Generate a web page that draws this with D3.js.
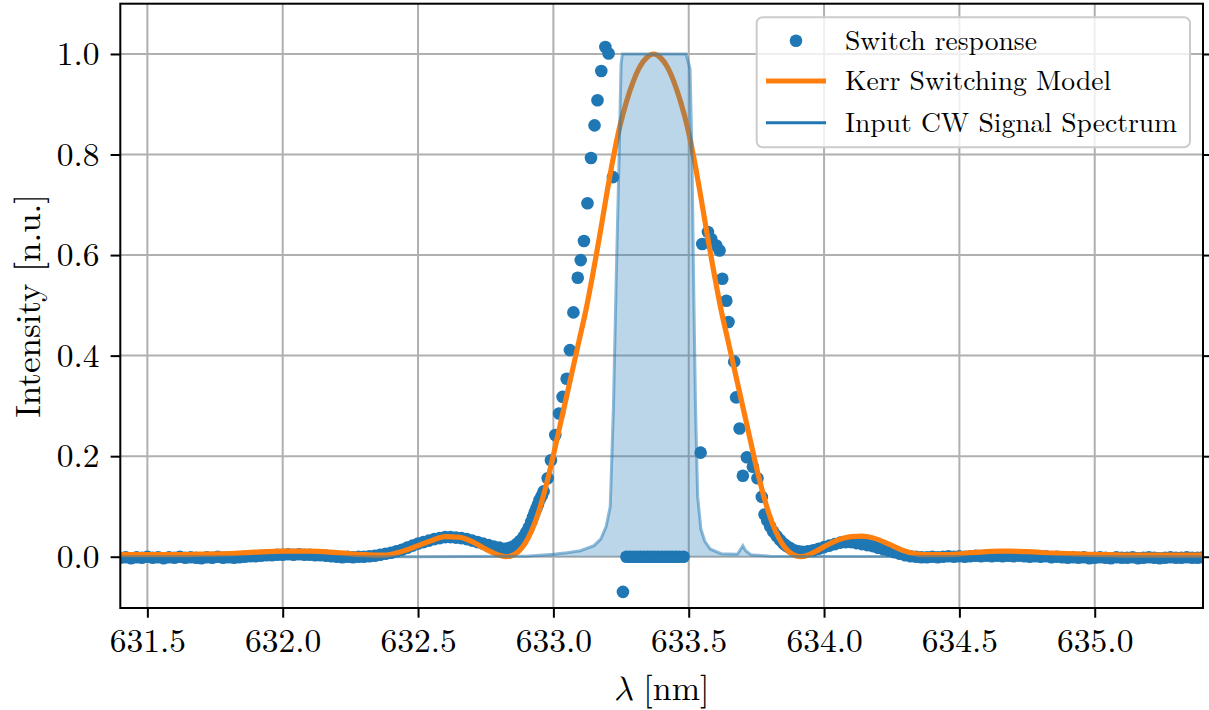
<!DOCTYPE html>
<html><head><meta charset="utf-8">
<script src="https://cdn.jsdelivr.net/npm/d3@7"></script>
<style>
html,body{margin:0;padding:0;background:#fff;}
</style></head>
<body><svg id="chart" width="1209" height="710"></svg>
<script>
// ---------- DATA ----------
const xTicks = [631.5, 632.0, 632.5, 633.0, 633.5, 634.0, 634.5, 635.0];
const yTicks = [0.0, 0.2, 0.4, 0.6, 0.8, 1.0];
const legendLabels = ["Switch response", "Kerr Switching Model", "Input CW Signal Spectrum"];

// Switch response (measured points)
const switchLambda = [
631.40,631.42,631.44,631.46,631.48,631.50,631.52,631.54,631.56,631.58,631.60,631.62,631.64,631.66,631.68,631.70,631.72,631.74,631.76,631.78,
631.80,631.82,631.84,631.86,631.88,631.90,631.92,631.94,631.96,631.98,632.00,632.02,632.04,632.06,632.08,632.10,632.12,632.14,632.16,632.18,
632.20,632.22,632.24,632.26,632.28,632.30,632.32,632.34,632.36,632.38,632.40,632.42,632.44,632.46,632.48,632.50,632.52,632.54,632.56,632.58,
632.60,632.62,632.64,632.66,632.68,632.70,632.72,632.74,632.76,632.78,632.80,632.82,
632.835,632.850,632.866,632.878,632.890,632.900,632.909,632.918,632.925,632.931,632.937,632.943,632.949,632.957,632.964,
632.979,632.991,633.007,633.021,633.034,633.049,633.061,633.074,633.090,633.101,633.113,633.126,633.139,633.152,633.163,633.177,633.192,633.204,633.220,
633.257,
633.270,633.283,633.296,633.309,633.322,633.335,633.348,633.361,633.374,633.387,633.400,633.413,633.426,633.439,633.452,633.465,633.481,
633.544,633.550,633.571,633.583,633.602,633.614,633.624,633.639,633.647,633.668,633.675,633.688,633.700,633.715,633.737,633.754,633.770,633.780,633.790,
633.801,633.812,633.825,633.838,633.850,633.862,633.875,633.890,633.905,
633.92,633.94,633.96,633.98,634.00,634.02,634.04,634.06,634.08,634.10,634.12,634.14,634.16,634.18,634.20,634.22,634.24,634.26,634.28,634.30,
634.32,634.34,634.36,634.38,634.40,634.42,634.44,634.46,634.48,634.50,634.52,634.54,634.56,634.58,634.60,634.62,634.64,634.66,634.68,634.70,
634.72,634.74,634.76,634.78,634.80,634.82,634.84,634.86,634.88,634.90,634.92,634.94,634.96,634.98,635.00,635.02,635.04,635.06,635.08,635.10,
635.12,635.14,635.16,635.18,635.20,635.22,635.24,635.26,635.28,635.30,635.32,635.34,635.36,635.38,635.40
];
const switchIntensity = [
-0.002,-0.001,-0.003,-0.001,-0.002,0.000,-0.002,-0.001,-0.003,-0.001,-0.002,0.000,-0.002,-0.001,-0.002,-0.003,-0.001,-0.002,0.000,-0.002,
-0.001,-0.002,-0.001,0.000,0.001,0.001,0.002,0.003,0.003,0.004,0.004,0.005,0.004,0.005,0.004,0.004,0.003,0.003,0.002,0.001,
0.000,-0.001,0.000,-0.001,0.000,0.000,0.001,0.002,0.004,0.006,0.008,0.011,0.014,0.018,0.022,0.026,0.029,0.032,0.035,0.037,
0.039,0.039,0.038,0.037,0.035,0.032,0.029,0.026,0.023,0.020,0.018,0.016,
0.017,0.020,0.026,0.032,0.040,0.049,0.058,0.069,0.079,0.088,0.096,0.104,0.113,0.121,0.130,
0.156,0.192,0.242,0.285,0.318,0.354,0.411,0.486,0.555,0.590,0.628,0.703,0.793,0.858,0.908,0.966,1.014,1.001,0.755,
-0.070,
0,0,0,0,0,0,0,0,0,0,0,0,0,0,0,0,0,
0.207,0.622,0.646,0.632,0.619,0.609,0.553,0.509,0.467,0.388,0.317,0.255,0.161,0.198,0.179,0.156,0.119,0.084,0.072,
0.060,0.050,0.041,0.033,0.026,0.021,0.017,0.013,0.011,
0.010,0.011,0.013,0.016,0.019,0.022,0.025,0.028,0.029,0.029,0.027,0.025,0.023,0.021,0.018,0.015,0.012,0.009,0.006,0.003,
0.001,0.000,-0.001,-0.001,0.000,-0.001,0.000,0.001,0.000,0.001,0.000,0.001,0.002,0.001,0.002,0.001,0.002,0.001,0.002,0.001,
0.002,0.001,0.000,0.001,0.000,0.001,-0.001,0.000,-0.001,-0.002,-0.001,-0.002,-0.001,-0.003,-0.002,-0.001,-0.002,-0.003,-0.001,-0.002,
-0.002,-0.001,-0.003,-0.002,-0.001,-0.002,-0.003,-0.002,-0.001,-0.002,-0.002,-0.001,-0.002,-0.002,-0.001
];

// Kerr switching model
const modelLambda = [
631.40,631.50,631.60,631.70,631.80,631.90,632.00,632.05,632.10,632.20,632.30,632.37,632.45,632.50,632.55,632.60,632.65,632.70,632.75,632.80,
632.825,632.845,632.870,632.895,632.920,632.945,632.970,632.995,633.020,633.045,633.070,633.095,633.120,633.145,633.170,633.195,633.220,633.245,633.270,633.295,
633.320,633.345,633.370,633.395,633.420,633.445,633.470,633.495,633.520,633.545,633.570,633.595,633.620,633.645,633.670,633.695,633.720,633.745,633.770,633.795,
633.820,633.845,633.870,633.895,633.915,633.94,633.97,634.00,634.05,634.10,634.14,634.19,634.24,634.29,634.37,634.45,634.55,634.65,634.69,
634.75,634.85,634.95,635.05,635.15,635.25,635.40
];
const modelIntensity = [
0.004,0.004,0.004,0.005,0.006,0.009,0.011,0.011,0.011,0.008,0.004,0.003,0.012,0.022,0.032,0.040,0.039,0.030,0.015,0.003,
0.000,0.002,0.010,0.026,0.052,0.088,0.135,0.190,0.250,0.310,0.370,0.430,0.490,0.560,0.635,0.715,0.790,0.855,0.905,0.945,
0.975,0.993,1.000,0.993,0.975,0.945,0.905,0.855,0.790,0.715,0.635,0.560,0.490,0.430,0.370,0.310,0.250,0.190,0.135,0.088,
0.052,0.026,0.010,0.002,0.000,0.003,0.011,0.020,0.033,0.040,0.041,0.036,0.025,0.013,0.004,0.004,0.008,0.011,0.011,
0.010,0.007,0.005,0.004,0.003,0.003,0.003
];

// Input CW signal spectrum
const specLambda = [
631.40,632.50,632.90,633.00,633.05,633.10,633.15,633.175,633.195,633.21,633.222,633.232,633.243,633.25,633.255,
633.49,633.505,633.512,633.518,633.525,633.533,633.545,633.56,633.58,633.62,633.68,633.70,633.71,633.73,633.80,635.40
];
const specIntensity = [
0.000,0.000,0.001,0.005,0.008,0.012,0.022,0.035,0.060,0.100,0.300,0.550,0.800,0.980,1.000,
1.000,0.970,0.800,0.550,0.300,0.120,0.055,0.030,0.015,0.006,0.005,0.022,0.012,0.004,0.001,0.000
];

// ---------- CHART ----------
const FONT = "'Latin Modern Roman', 'CMU Serif', 'Liberation Serif', serif";
const blue = "#1f77b4", orange = "#ff7f0e";
const svg = d3.select("#chart");
const L = 120.3, R = 1203, T = 3.7, B = 608;
const x = d3.scaleLinear().domain([631.4, 635.4]).range([L, R]);
const y = d3.scaleLinear().domain([-0.102, 1.1]).range([B, T]);

svg.append("defs").append("clipPath").attr("id","clip")
  .append("rect").attr("x",L).attr("y",T).attr("width",R-L).attr("height",B-T);

// grid
const grid = svg.append("g").attr("stroke","#b0b0b0").attr("stroke-width",2);
xTicks.forEach(v => grid.append("line").attr("x1",x(v)).attr("x2",x(v)).attr("y1",T).attr("y2",B));
yTicks.forEach(v => grid.append("line").attr("x1",L).attr("x2",R).attr("y1",y(v)).attr("y2",y(v)));

const plot = svg.append("g").attr("clip-path","url(#clip)");

// scatter
const pts = switchLambda.map((l,i)=>[l, switchIntensity[i]]);
plot.append("g").selectAll("circle").data(pts).join("circle")
  .attr("cx",d=>x(d[0])).attr("cy",d=>y(d[1])).attr("r",6.3).attr("fill",blue);

// model line
const mdl = modelLambda.map((l,i)=>[l, modelIntensity[i]]);
plot.append("path").datum(mdl)
  .attr("d", d3.line().x(d=>x(d[0])).y(d=>y(d[1])).curve(d3.curveMonotoneX))
  .attr("fill","none").attr("stroke",orange).attr("stroke-width",5.2).attr("stroke-linejoin","round");

// spectrum fill + line
const spc = specLambda.map((l,i)=>[l, specIntensity[i]]);
plot.append("path").datum(spc)
  .attr("d", d3.area().x(d=>x(d[0])).y0(y(0)).y1(d=>y(d[1])))
  .attr("fill",blue).attr("fill-opacity",0.3);
plot.append("path").datum(spc)
  .attr("d", d3.line().x(d=>x(d[0])).y(d=>y(d[1])))
  .attr("fill","none").attr("stroke",blue).attr("stroke-opacity",0.5).attr("stroke-width",3);

// axes
const fmt = d3.format(".1f");
const xAxis = svg.append("g").attr("transform",`translate(0,${B})`)
  .call(d3.axisBottom(x).tickValues(xTicks).tickFormat(fmt).tickSize(9.7).tickPadding(11));
const yAxis = svg.append("g").attr("transform",`translate(${L},0)`)
  .call(d3.axisLeft(y).tickValues(yTicks).tickFormat(fmt).tickSize(9.7).tickPadding(11));
const yAxisR = svg.append("g").attr("transform",`translate(${R},0)`)
  .call(d3.axisRight(y).tickValues(yTicks).tickFormat("").tickSize(9.7));
[xAxis,yAxis,yAxisR].forEach(a=>{
  a.select(".domain").remove();
  a.selectAll(".tick line").attr("stroke","#000").attr("stroke-width",2);
  a.selectAll("text").attr("font-size",33.5).attr("font-family",FONT).attr("fill","#000");
});
// spines
svg.append("rect").attr("x",L).attr("y",T).attr("width",R-L).attr("height",B-T)
  .attr("fill","none").attr("stroke","#000").attr("stroke-width",2);

// axis labels
const xl = svg.append("text").attr("x",(L+R)/2).attr("y",700).attr("text-anchor","middle")
  .attr("font-size",34).attr("font-family",FONT);
xl.append("tspan").attr("font-style","italic")
  .attr("font-family","'Latin Modern Math','CMU Serif','DejaVu Serif',serif").text("λ");
xl.append("tspan").text(" [nm]");
svg.append("text").attr("transform",`translate(40,${(T+B)/2}) rotate(-90)`)
  .attr("text-anchor","middle").attr("font-size",35).attr("font-family",FONT).text("Intensity [n.u.]");

// legend
const lg = svg.append("g");
lg.append("rect").attr("x",756.7).attr("y",17.3).attr("width",433.3).attr("height",130).attr("rx",6)
  .attr("fill","#fff").attr("fill-opacity",0.8).attr("stroke","#cccccc").attr("stroke-width",2);
const rowY = [40.7, 81, 122.7];
lg.append("circle").attr("cx",796).attr("cy",rowY[0]).attr("r",6.3).attr("fill",blue);
lg.append("line").attr("x1",766).attr("x2",826).attr("y1",rowY[1]).attr("y2",rowY[1]).attr("stroke",orange).attr("stroke-width",5.2);
lg.append("line").attr("x1",766).attr("x2",826).attr("y1",rowY[2]).attr("y2",rowY[2]).attr("stroke",blue).attr("stroke-width",3);
legendLabels.forEach((t,i)=>{
  lg.append("text").attr("x",845).attr("y",rowY[i]).attr("dy","0.33em")
    .attr("font-size",27.6).attr("font-family",FONT).text(t);
});
</script></body></html>
